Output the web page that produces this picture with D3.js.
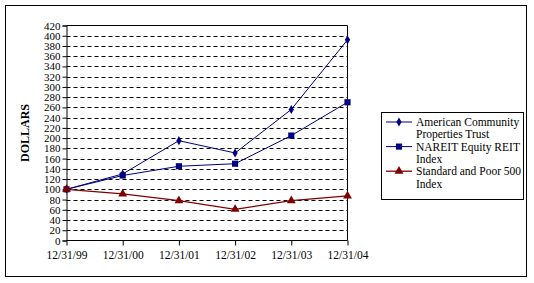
<!DOCTYPE html>
<html><head><meta charset="utf-8">
<script src="https://cdn.jsdelivr.net/npm/d3@7"></script>
<style>body{margin:0;background:#fff}svg{display:block}</style>
</head><body><svg id="c" width="534" height="283"></svg>
<script>
const categories = ["12/31/99","12/31/00","12/31/01","12/31/02","12/31/03","12/31/04"];
const acpt = [100,130,195,171,256,392];
const nareit = [100,127,145,150,205,270];
const sp500 = [100,91,78,61,78,87];
const seriesNames = ["American Community Properties Trust","NAREIT Equity REIT Index","Standard and Poor 500 Index"];
const legendLines = [["American Community","Properties Trust"],["NAREIT Equity REIT","Index"],["Standard and Poor 500","Index"]];
const yTicks = d3.range(0,421,20);

const svg = d3.select("#c");
const font = "'Liberation Serif','Times New Roman',serif";
svg.append("rect").attr("x",5.5).attr("y",5.5).attr("width",521).attr("height",271).attr("fill","#fff").attr("stroke","#000");

const L=66.5, R=347.5, T=25.5, B=240.5;
const x = d3.scalePoint().domain(categories).range([L,R]);
const y = d3.scaleLinear().domain([0,420]).range([B,T]);

// grid
svg.append("g").selectAll("line").data(yTicks.filter(d=>d>0&&d<420)).join("line")
  .attr("x1",L).attr("x2",R).attr("y1",d=>Math.round(y(d))+0.5).attr("y2",d=>Math.round(y(d))+0.5)
  .attr("stroke","#000").attr("stroke-dasharray","4,3");
// plot border top/right
svg.append("path").attr("d",`M${L},${T}H${R}V${B}`).attr("fill","none").attr("stroke","#000");

const yAxis = d3.axisLeft(y).tickValues(yTicks).tickSize(4).tickPadding(2);
const gy = svg.append("g").attr("transform",`translate(${L},0)`).call(yAxis);
gy.selectAll("text").attr("font-family",font).attr("font-size",11).attr("fill","#000");
gy.select(".domain").attr("stroke","#000");

const xAxis = d3.axisBottom(x).tickSize(5).tickPadding(5);
const gx = svg.append("g").attr("transform",`translate(0,${B})`).call(xAxis);
gx.selectAll("text").attr("font-family",font).attr("font-size",11.5).attr("fill","#000");
gx.select(".domain").attr("d",`M${L},0H${R}`).attr("stroke","#000");

svg.append("text").attr("transform","translate(29,133) rotate(-90)").attr("text-anchor","middle")
  .attr("font-family",font).attr("font-weight","bold").attr("font-size",12).text("DOLLARS");

const line = d3.line().x((d,i)=>x(categories[i])).y(d=>y(d));
const series = [
  {vals:acpt,color:"#000080",shape:d3.symbolDiamond,size:24,w:1},
  {vals:nareit,color:"#000080",shape:d3.symbolSquare,size:38,w:1},
  {vals:sp500,color:"#800000",shape:d3.symbolTriangle,size:34,w:1.3}
];
series.forEach(s=>{
  svg.append("path").attr("d",line(s.vals)).attr("fill","none").attr("stroke",s.color).attr("stroke-width",s.w);
  svg.append("g").selectAll("path").data(s.vals).join("path")
    .attr("d",d3.symbol().type(s.shape).size(s.size))
    .attr("transform",(d,i)=>`translate(${x(categories[i])},${y(d)})`)
    .attr("fill",s.color);
});

// legend
const lg = svg.append("g");
lg.append("rect").attr("x",381.5).attr("y",112.5).attr("width",142).attr("height",87).attr("fill","#fff").attr("stroke","#000");
series.forEach((s,i)=>{
  const cy = 122 + i*24.6;
  lg.append("line").attr("x1",386).attr("x2",412).attr("y1",cy).attr("y2",cy).attr("stroke",s.color).attr("stroke-width",s.w);
  lg.append("path").attr("d",d3.symbol().type(s.shape).size(s.size)).attr("transform",`translate(399,${cy})`).attr("fill",s.color);
  legendLines[i].forEach((t,j)=>{
    lg.append("text").attr("x",416).attr("y",cy+j*12.3).attr("dy","0.35em")
      .attr("font-family",font).attr("font-size",11.5).text(t);
  });
});
</script></body></html>
